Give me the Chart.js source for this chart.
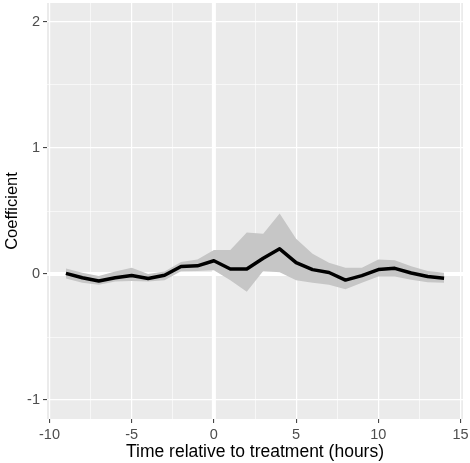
<!DOCTYPE html>
<html>
<head>
<meta charset="utf-8">
<script src="https://cdn.jsdelivr.net/npm/chart.js@4"></script>
<style>
  body { margin: 0; background: #ffffff; }
</style>
</head>
<body>
<canvas id="theChart" width="470" height="463"></canvas>
<script>
// values
var hours = [-9, -8, -7, -6, -5, -4, -3, -2, -1, 0, 1, 2, 3, 4, 5, 6, 7, 8, 9, 10, 11, 12, 13, 14];
var coef  = [0.005, -0.03, -0.055, -0.03, -0.012, -0.035, -0.01, 0.06, 0.065, 0.105, 0.04, 0.04,
             0.125, 0.2, 0.09, 0.035, 0.012, -0.048, -0.013, 0.035, 0.045, 0.008, -0.02, -0.033];
var upper = [0.045, 0.01, -0.015, 0.02, 0.05, 0.0, 0.02, 0.095, 0.115, 0.19, 0.19, 0.33,
             0.32, 0.48, 0.28, 0.16, 0.09, 0.05, 0.05, 0.115, 0.11, 0.062, 0.024, 0.01];
var lower = [-0.035, -0.07, -0.085, -0.06, -0.055, -0.06, -0.05, 0.022, 0.025, 0.03, -0.05, -0.14,
             0.025, 0.015, -0.05, -0.07, -0.085, -0.12, -0.07, -0.02, -0.02, -0.045, -0.065, -0.07];

var xBreaks = [-10, -5, 0, 5, 10, 15];
var xMinor  = [-7.5, -2.5, 2.5, 7.5, 12.5];
var yBreaks = [-1, 0, 1, 2];
var yMinor  = [-0.5, 0.5, 1.5];

function pts(ys) {
    return hours.map(function(h, i){ return {x: h, y: ys[i]}; });
}

function isMajor(ctx, breaks) {
    return ctx.tick && breaks.indexOf(ctx.tick.value) !== -1;
}

// grey ggplot panel + white reference lines at 0
var panelPlugin = {
    id: 'panel',
    beforeDraw: function(chart) {
        var a = chart.chartArea, c = chart.ctx;
        c.save();
        c.fillStyle = '#ebebeb';
        c.fillRect(a.left, a.top, a.right - a.left, a.bottom - a.top);
        c.restore();
    },
    beforeDatasetsDraw: function(chart) {
        var a = chart.chartArea, c = chart.ctx;
        var x0 = chart.scales.x.getPixelForValue(0);
        var y0 = chart.scales.y.getPixelForValue(0);
        c.save();
        c.strokeStyle = '#ffffff';
        c.lineWidth = 4;
        c.beginPath();
        c.moveTo(x0, a.top); c.lineTo(x0, a.bottom);
        c.moveTo(a.left, y0); c.lineTo(a.right, y0);
        c.stroke();
        c.restore();
    }
};

Chart.defaults.font.family = "'Liberation Sans', Arial, sans-serif";

var ctx = document.getElementById("theChart").getContext('2d');

var theLineChart = new Chart(ctx, {
    type: 'line',
    data: {
        datasets: [{
            label: 'Coefficient',
            data: pts(coef),
            borderColor: '#000000',
            borderWidth: 3.5,
            borderJoinStyle: 'round',
            pointRadius: 0,
            fill: false
        }, {
            label: 'upper',
            data: pts(upper),
            borderWidth: 0,
            borderColor: 'rgba(0,0,0,0)',
            backgroundColor: '#c6c6c6',
            pointRadius: 0,
            fill: '+1'
        }, {
            label: 'lower',
            data: pts(lower),
            borderWidth: 0,
            borderColor: 'rgba(0,0,0,0)',
            pointRadius: 0,
            fill: false
        }]
    },
    options: {
        responsive: false,
        animation: false,
        events: [],
        layout: { padding: { top: 3, right: 7, bottom: 0, left: 0 } },
        plugins: {
            legend: { display: false },
            tooltip: { enabled: false }
        },
        scales: {
            x: {
                type: 'linear',
                min: -10.15,
                max: 15.15,
                afterBuildTicks: function(scale) {
                    scale.ticks = xBreaks.concat(xMinor).sort(function(a, b){ return a - b; })
                        .map(function(v){ return {value: v}; });
                },
                afterFit: function(scale) {
                    scale.height = 44;
                    scale.paddingLeft = 0;
                    scale.paddingRight = 0;
                },
                border: { display: false },
                grid: {
                    color: '#ffffff',
                    lineWidth: function(c){ return isMajor(c, xBreaks) ? 1.2 : 0.6; },
                    tickColor: function(c){ return isMajor(c, xBreaks) ? '#333333' : 'rgba(0,0,0,0)'; },
                    tickLength: 4,
                    tickWidth: 1
                },
                ticks: {
                    autoSkip: false,
                    maxRotation: 0,
                    padding: 3,
                    color: '#4d4d4d',
                    font: { size: 14.5 },
                    callback: function(v){ return xBreaks.indexOf(v) !== -1 ? String(v) : ''; }
                },
                title: {
                    display: true,
                    text: 'Time relative to treatment (hours)',
                    color: '#000000',
                    font: { size: 17.5 },
                    padding: { top: 0, bottom: 0 }
                }
            },
            y: {
                type: 'linear',
                min: -1.15,
                max: 2.15,
                afterBuildTicks: function(scale) {
                    scale.ticks = yBreaks.concat(yMinor).sort(function(a, b){ return a - b; })
                        .map(function(v){ return {value: v}; });
                },
                afterFit: function(scale) {
                    scale.width = 47;
                    scale.paddingTop = 0;
                    scale.paddingBottom = 0;
                },
                border: { display: false },
                grid: {
                    color: '#ffffff',
                    lineWidth: function(c){ return isMajor(c, yBreaks) ? 1.2 : 0.6; },
                    tickColor: function(c){ return isMajor(c, yBreaks) ? '#333333' : 'rgba(0,0,0,0)'; },
                    tickLength: 4,
                    tickWidth: 1
                },
                ticks: {
                    autoSkip: false,
                    padding: 3,
                    color: '#4d4d4d',
                    font: { size: 14.5 },
                    callback: function(v){ return yBreaks.indexOf(v) !== -1 ? String(v) : ''; }
                },
                title: {
                    display: true,
                    text: 'Coefficient',
                    color: '#000000',
                    font: { size: 16.5 },
                    padding: { top: 3, bottom: 0 }
                }
            }
        }
    },
    plugins: [panelPlugin]
});
</script>
</body>
</html>
